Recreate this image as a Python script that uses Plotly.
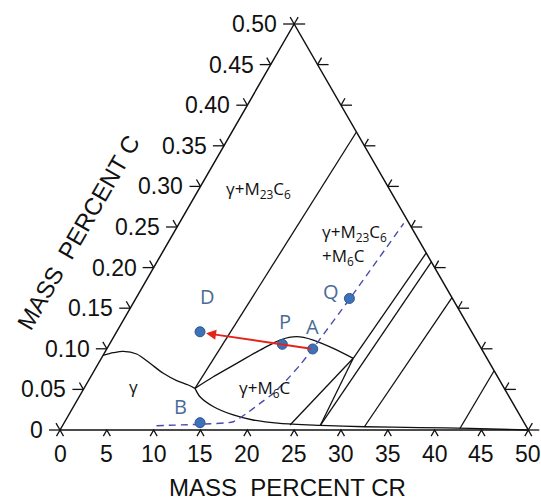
import plotly.graph_objects as go

# ---------------- data ----------------
cr_ticks = [0, 5, 10, 15, 20, 25, 30, 35, 40, 45, 50]
cr_tick_labels = ["0", "5", "10", "15", "20", "25", "30", "35", "40", "45", "50"]
c_ticks = [0.0, 0.05, 0.10, 0.15, 0.20, 0.25, 0.30, 0.35, 0.40, 0.45, 0.50]
c_tick_labels = ["0", "0.05", "0.10", "0.15", "0.20", "0.25", "0.30", "0.35", "0.40", "0.45", "0.50"]

# gamma / gamma+M23C6 boundary (left edge -> junction)
gamma_top_cr = [4.6, 5.69, 6.76, 8.19, 9.61, 11.03, 12.46, 13.7, 14.41]
gamma_top_c = [0.092, 0.0952, 0.0969, 0.0936, 0.0821, 0.0698, 0.0608, 0.0554, 0.0513]

# lower solvus (junction -> Cr corner)
gamma_low_cr = [14.41, 14.95, 16.4, 18.5, 20.6, 23.5, 27.8, 32.5, 38.4, 43.8, 50.0]
gamma_low_c = [0.0513, 0.041, 0.0287, 0.0185, 0.0123, 0.0082, 0.0058, 0.004, 0.003, 0.002, 0.0]

# gamma+M6C upper boundary
m6c_top_cr = [14.41, 16.37, 18.87, 21.71, 23.49, 25.27, 27.04, 29.18, 31.31]
m6c_top_c = [0.0513, 0.0656, 0.0821, 0.1006, 0.1108, 0.1149, 0.1108, 0.1006, 0.0883]

# straight boundary lines: (cr0, c0, cr1, c1)
tie_cr0 = [14.41, 31.31, 31.31, 31.31, 27.8, 32.5, 42.7]
tie_c0 = [0.0513, 0.0883, 0.0883, 0.0883, 0.0058, 0.004, 0.0018]
tie_cr1 = [31.65, 24.56, 27.8, 39.1, 39.65, 41.85, 46.35]
tie_c1 = [0.367, 0.0062, 0.0058, 0.218, 0.207, 0.163, 0.073]

# dashed path
path_cr = [10.3, 15.0, 18.5, 19.93, 21.35, 22.77, 24.2, 25.62, 26.97, 30.96, 36.7]
path_c = [0.0053, 0.0072, 0.0102, 0.0205, 0.0328, 0.0451, 0.0616, 0.080, 0.0998, 0.162, 0.2545]

# labelled alloy points
pt_names = ["D", "B", "P", "A", "Q"]
pt_cr = [14.95, 14.95, 23.74, 26.98, 30.9]
pt_c = [0.121, 0.009, 0.1055, 0.0998, 0.162]

# ---------------- geometry helpers ----------------
PX_CR = 9.366   # pixels per mass% Cr
PX_C = 812.0    # pixels per mass% C
X0, Y0 = 60, 430
W, H = 541, 500
CMAX, CRMAX = 0.5, 50.0

def left_edge(c):
    return c / CMAX * CRMAX / 2

def right_edge(c):
    return CRMAX - c / CMAX * CRMAX / 2

fig = go.Figure()
BLACK = "#111111"

# triangle
fig.add_trace(go.Scatter(x=[0, CRMAX / 2, CRMAX, 0], y=[0, CMAX, 0, 0], mode="lines",
                         line=dict(color=BLACK, width=1.5), hoverinfo="skip"))

# ticks
tx, ty = [], []
LH, LD, LB = 11, 8, 7
for c in c_ticks:
    xe = left_edge(c)
    tx += [xe, xe - LH / PX_CR, None, xe, xe - LD * 0.5 / PX_CR, None]
    ty += [c, c, None, c, c + LD * 0.866 / PX_C, None]
    xr = right_edge(c)
    tx += [xr, xr + LH / PX_CR, None, xr, xr + LD * 0.5 / PX_CR, None]
    ty += [c, c, None, c, c + LD * 0.866 / PX_C, None]
for cr in cr_ticks:
    tx += [cr - LB * 0.5 / PX_CR, cr, cr + LB * 0.5 / PX_CR, None]
    ty += [-LB * 0.866 / PX_C, 0, -LB * 0.866 / PX_C, None]
fig.add_trace(go.Scatter(x=tx, y=ty, mode="lines", line=dict(color=BLACK, width=1.3),
                         hoverinfo="skip"))

# phase boundaries
for xs, ys in [(gamma_top_cr, gamma_top_c), (gamma_low_cr, gamma_low_c), (m6c_top_cr, m6c_top_c)]:
    fig.add_trace(go.Scatter(x=xs, y=ys, mode="lines",
                             line=dict(color=BLACK, width=1.3, shape="spline", smoothing=0.8),
                             hoverinfo="skip"))
lx, ly = [], []
for a, b, c, d in zip(tie_cr0, tie_c0, tie_cr1, tie_c1):
    lx += [a, c, None]
    ly += [b, d, None]
fig.add_trace(go.Scatter(x=lx, y=ly, mode="lines", line=dict(color=BLACK, width=1.3),
                         hoverinfo="skip"))

# dashed path
fig.add_trace(go.Scatter(x=path_cr, y=path_c, mode="lines",
                         line=dict(color="#4b4bab", width=1.4, dash="7px,5px", shape="spline",
                                   smoothing=0.6),
                         hoverinfo="skip"))

# red arrow A -> D
iA, iD = pt_names.index("A"), pt_names.index("D")
fig.add_annotation(x=pt_cr[iD] + 6 / PX_CR, y=pt_c[iD] - 1.5 / PX_C,
                   ax=pt_cr[iA], ay=pt_c[iA], xref="x", yref="y", axref="x", ayref="y",
                   showarrow=True, arrowhead=2, arrowsize=1.0, arrowwidth=2,
                   arrowcolor="#e3241b", text=" ", font=dict(size=1))

# points
fig.add_trace(go.Scatter(x=pt_cr, y=pt_c, mode="markers",
                         marker=dict(size=10, color="#3d72b8", line=dict(color="#2b5590", width=1)),
                         hoverinfo="skip"))
offs = {"D": (7, 35), "B": (-20, 16), "P": (3, 23), "A": (0, 22), "Q": (-18, 7)}
for n, x, y in zip(pt_names, pt_cr, pt_c):
    dx, dy = offs[n]
    fig.add_annotation(x=x, y=y, text=n, showarrow=False, xshift=dx, yshift=dy,
                       font=dict(family="Open Sans", size=20, color="#4a6b96"))

# tick labels
TF = dict(family="Liberation Sans, Arial", size=23, color=BLACK)
for c, lab in zip(c_ticks, c_tick_labels):
    fig.add_annotation(x=left_edge(c), y=c, text=lab, showarrow=False, xanchor="right",
                       xshift=-15, yshift=0, font=TF)
for cr, lab in zip(cr_ticks, cr_tick_labels):
    fig.add_annotation(x=cr, y=0, text=lab, showarrow=False, yanchor="top",
                       yshift=-9, font=TF)

# region labels
RF = dict(family="Open Sans", size=17, color=BLACK)
fig.add_annotation(x=21.14, y=0.2956, text="γ+M<sub>23</sub>C<sub>6</sub>", showarrow=False, font=RF)
fig.add_annotation(x=27.8, y=0.2436, text="γ+M<sub>23</sub>C<sub>6</sub>", showarrow=False,
                   xanchor="left", font=RF)
fig.add_annotation(x=27.8, y=0.2135, text="+M<sub>6</sub>C", showarrow=False,
                   xanchor="left", font=RF)
fig.add_annotation(x=7.83, y=0.0533, text="γ", showarrow=False, font=RF)
fig.add_annotation(x=21.94, y=0.0517, text="γ+M<sub>6</sub>C", showarrow=False, font=RF)

# axis titles
AF = dict(family="Liberation Sans, Arial", size=24, color=BLACK)
fig.add_annotation(x=24.29, y=-0.0705, text="MASS  PERCENT CR", showarrow=False, font=AF)
fig.add_annotation(x=1.92, y=0.2438, text="MASS  PERCENT C", showarrow=False, textangle=-60,
                   font=AF)

fig.update_layout(
    width=W, height=H, autosize=False, showlegend=False,
    margin=dict(l=0, r=0, t=0, b=0), paper_bgcolor="white", plot_bgcolor="white",
    xaxis=dict(range=[-X0 / PX_CR, (W - X0) / PX_CR], visible=False, fixedrange=True),
    yaxis=dict(range=[(Y0 - H) / PX_C, Y0 / PX_C], visible=False, fixedrange=True),
)
fig.write_html("out.html")
